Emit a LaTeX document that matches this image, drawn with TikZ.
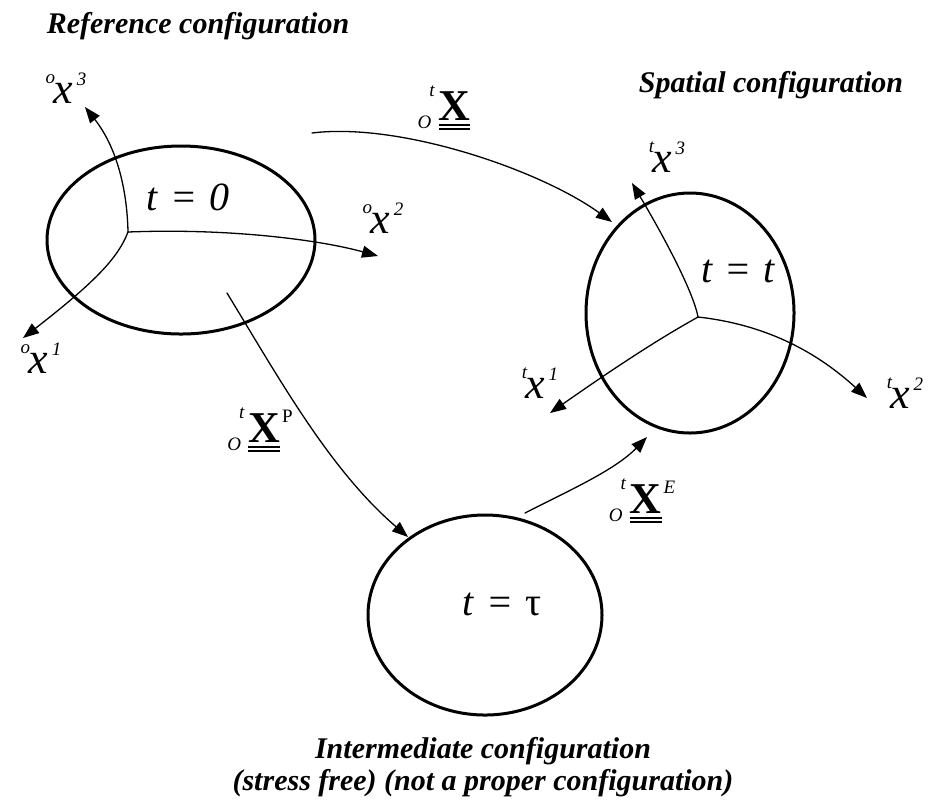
\documentclass[tikz,border=0pt]{standalone}
\usepackage{fontspec}
\setmainfont{Liberation Serif}
\usetikzlibrary{arrows.meta}
\newcommand{\scr}{\fontsize{9.5}{10}\selectfont}
\newcommand{\axlab}[2]{\textit{\raisebox{10pt}{\scr #1}\kern-1pt x\kern2pt\raisebox{9pt}{\scr #2}}}
\newcommand{\dund}[1]{\vtop{\hbox{#1}\kern1.8pt\hrule height 1pt\kern1.4pt\hrule height 1pt}}
\newcommand{\mapX}[1]{{\scr\itshape\raisebox{-4pt}{O}\kern-1pt\raisebox{12pt}{t}}\kern2pt\dund{\bfseries X}\kern1pt\raisebox{10pt}{\scr #1}}
\begin{document}
\begin{tikzpicture}[x=0.5pt,y=-0.5pt,line cap=round,
  body/.style={line width=1.5pt},
  axis/.style={line width=.65pt,-{Triangle[length=8pt,width=6pt]}},
  title/.style={anchor=base,font=\fontsize{15}{18}\selectfont\bfseries\itshape,inner sep=0pt},
  axlabel/.style={anchor=base,font=\fontsize{22}{22}\selectfont,inner sep=0pt},
  maplabel/.style={anchor=base,font=\fontsize{22}{22}\selectfont,inner sep=0pt},
  timelabel/.style={anchor=base,font=\fontsize{20}{20}\selectfont\itshape,inner sep=0pt}]
\useasboundingbox(0,0)rectangle(929,800);
% configurations
\draw[body](181,240)ellipse[x radius=134,y radius=94];
\draw[body](690,313)ellipse[x radius=104,y radius=120];
\draw[body](485,615)ellipse[x radius=117,y radius=100];
\node[timelabel](t0)at(188,210){t\kern6pt=\kern6pt0};
\node[timelabel](tt)at(738,282){t\kern6pt=\kern6pt t};
\node[timelabel](ttau)at(502,615){t\kern6pt=\kern6pt{\upshape τ}};
% reference axes
\coordinate(o0)at(128,232);\coordinate(e01)at(23,338);\coordinate(e02)at(378,256);\coordinate(e03)at(85,107);
\draw[axis](o0)..controls(118,258)and(95,282)..(e01);
\draw[axis](o0)..controls(230,228)and(320,240)..(e02);
\draw[axis](o0)..controls(127,185)and(115,145)..(e03);
\node[axlabel](l01)at(41,373){\axlab{o}{1}};\node[axlabel](l02)at(383,233){\axlab{o}{2}};\node[axlabel](l03)at(66,103){\axlab{o}{3}};
% spatial axes
\coordinate(o1)at(698,317);\coordinate(e11)at(550,413);\coordinate(e12)at(867,398);\coordinate(e13)at(632,183);
\draw[axis](o1)..controls(675,330)and(640,350)..(e11);
\draw[axis](o1)..controls(770,325)and(820,355)..(e12);
\draw[axis](o1)..controls(693,290)and(660,230)..(e13);
\node[axlabel](l11)at(540,398){\axlab{t}{1}};\node[axlabel](l12)at(905,408){\axlab{t}{2}};\node[axlabel](l13)at(667,172){\axlab{t}{3}};
% mappings
\coordinate(sX)at(312,133);\coordinate(tX)at(612,222);\coordinate(sP)at(227,293);\coordinate(tP)at(408,537);\coordinate(sE)at(525,513);\coordinate(tE)at(647,437);
\draw[axis](sX)..controls(400,122)and(540,170)..(tX);
\draw[axis](sP)..controls(280,380)and(330,470)..(tP);
\draw[axis](sE)..controls(570,490)and(615,470)..(tE);
\node[maplabel](mX)at(445,120){\mapX{}};\node[maplabel](mP)at(260,442){\mapX{P}};\node[maplabel](mE)at(642,513){\mapX{\itshape E}};
% titles
\node[title](ref)at(198,33){Reference configuration};
\node[title](spat)at(771,92){Spatial configuration};
\node[title](inter)at(483,758){Intermediate configuration};
\node[title](inter2)at(483,790){(stress free) (not a proper configuration)};
\end{tikzpicture}
\end{document}
